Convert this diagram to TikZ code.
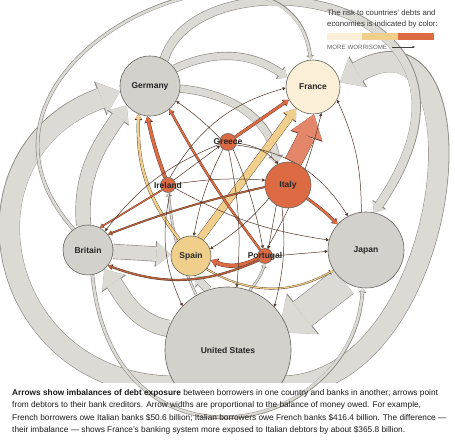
\documentclass[tikz,border=0pt]{standalone}
\usepackage{fontspec}
\setmainfont{Liberation Sans}
\usetikzlibrary{arrows.meta,positioning}

\definecolor{grayfill}{HTML}{DCDAD4}
\definecolor{graydraw}{HTML}{8E8B85}
\definecolor{nodegray}{HTML}{D3D1CB}
\definecolor{nodeline}{HTML}{66635E}
\definecolor{riskcream}{HTML}{FBEFD8}
\definecolor{risktan}{HTML}{EFCF8B}
\definecolor{riskred}{HTML}{DC6A43}
\definecolor{salmon}{HTML}{E3866A}
\definecolor{rust}{HTML}{B5623F}
\definecolor{flowline}{HTML}{4D3428}

\pgfdeclarelayer{back}
\pgfsetlayers{back,main}

\tikzset{
  country/.style={circle, draw=nodeline, line width=0.6pt, inner sep=0pt,
    font=\bfseries\fontsize{8.5}{10}\selectfont, text=black!85},
  cname/.style={font=\bfseries\fontsize{8.5}{10}\selectfont, text=black!85, inner sep=0pt},
  fat/.style={draw=grayfill, line width=#1,
    -{Triangle[length=1pt 0.95, width=2pt 1.6, line width=0pt]},
    preaction={draw=graydraw, line width=#1+1.2pt}},
  flow/.style 2 args={draw=#1, line width=#2,
    -{Triangle[length=2pt 1.2, width=2pt 1.8, line width=0pt]},
    preaction={draw=flowline, line width=#2+0.7pt}},
  link/.style={draw=flowline, line width=0.5pt,
    -{Triangle[length=3pt, width=3pt]}},
}

\begin{document}
\begin{tikzpicture}[x=1pt,y=1pt]
  \useasboundingbox (0,0) rectangle (455,443);

  % countries
  \begin{scope}
    \clip (0,60) rectangle (455,443);
    \node[country, fill=nodegray, minimum size=60pt] (germany) at (150,357) {Germany};
    \node[country, fill=riskcream, minimum size=54pt] (france) at (313,356) {France};
    \node[country, fill=riskred, minimum size=17pt, label={[cname]center:Greece}] (greece) at (228,301) {};
    \node[country, fill=riskred, minimum size=15pt, label={[cname]center:Ireland}] (ireland) at (168,258) {};
    \node[country, fill=riskred, minimum size=46pt] (italy) at (288,258) {Italy};
    \node[country, fill=nodegray, minimum size=50pt] (britain) at (88,193) {Britain};
    \node[country, fill=risktan, minimum size=40pt] (spain) at (191,187) {Spain};
    \node[country, fill=riskred, minimum size=15pt, label={[cname]center:Portugal}] (portugal) at (265,187) {};
    \node[country, fill=nodegray, minimum size=76pt] (japan) at (366,193) {Japan};
    \node[country, fill=nodegray, minimum size=126pt] (usa) at (228,93) {United States};
  \end{scope}

  \begin{pgfonlayer}{back}
    % big gray flows
    \begin{scope}
      \clip (0,60) rectangle (455,443);
      \draw[fat=20pt] (usa.215) to[out=180, in=200, looseness=1.55] (germany.190);
      \draw[fat=20pt] (usa.-35) to[out=0, in=30, looseness=1.45] (france.10);
      \draw[fat=14pt] (britain.100) to[out=95, in=235] (germany.220);
      \draw[fat=14pt] (britain) -- (spain);
      \draw[fat=16pt] (usa.160) to[out=170, in=-55] (britain.-50);
      \draw[fat=8pt] (germany.62) .. controls +(35,110) and +(150,220) .. (japan.78);
      \draw[fat=7pt] (germany.35) to[bend left=30] (france.160);
      \draw[fat=7pt] (germany.-5) to[out=-5, in=100] (italy.118);
      \draw[fat=30pt, shorten >=-10pt] (japan.235) -- (usa.22);
      \draw[fat=7pt] (usa.108) -- (spain.-80);
    \end{scope}
    \draw[fat=2.5pt] (britain.-80) .. controls +(20,-210) and +(-10,-150) .. (japan.-95);
    \draw[fat=2.5pt] (britain.125) .. controls +(-150,170) and +(-20,160) .. (france.95);
    \draw[fat=1.5pt] (usa.120) to[bend left=10] (ireland.-85);
    \draw[fat=1.5pt] (usa.70) to[bend right=10] (portugal.-90);

    % colored flows
    \draw[flow={risktan}{7pt}] (spain.62) -- (france.232);
    \draw[flow={salmon}{17pt}] (italy.78) to[bend right=5] (france.-88);
    \draw[flow={riskred}{3pt}] (ireland) to[bend left=4] (germany.-95);
    \draw[flow={riskred}{2.5pt}] (greece) -- (france.208);
    \draw[flow={riskred}{1.8pt}] (portugal) to[bend left=4] (germany.-50);
    \draw[flow={risktan}{2.5pt}] (spain.125) to[bend left=20] (germany.-112);
    \draw[flow={riskred}{3.5pt}] (portugal.200) to[bend left=25] (spain.-12);
    \draw[flow={risktan}{1.2pt}] (spain.-40) to[bend right=30] (japan.212);
    \draw[flow={riskred}{2.2pt}] (italy.-35) to[bend left=5] (japan.138);
    \draw[flow={rust}{1.5pt}] (portugal.215) to[bend left=22] (britain.-38);
    \draw[flow={rust}{1.2pt}] (italy.185) to[bend right=4] (britain.38);
    \draw[flow={riskred}{1pt}] (ireland.220) -- (britain.62);

    % thin links
    \foreach \a/\b/\ang in {ireland.75/france.182/22, ireland.8/italy.168/6,
        ireland.-25/japan.165/-10, greece.-20/japan.118/25, portugal.east/japan.182/0,
        japan.97/france.-28/-12, portugal.75/france.-72/-8, greece.155/germany.-30/-5,
        greece.235/spain.82/-8, italy.215/spain.20/8, greece.-8/italy.115/20,
        greece.-85/usa.82/8, ireland.-75/usa.136/-18, italy.-105/usa.43/10,
        greece.-55/portugal.105/6, italy.-120/portugal.65/0, greece.195/britain.48/-15,
        ireland.40/greece.205/0}
      \draw[link] (\a) to[bend left=\ang] (\b);
  \end{pgfonlayer}

  % legend
  \node[anchor=north west, inner sep=0pt, align=left, font=\fontsize{7.8}{11}\selectfont, text=black!80] (risk) at (327,433)
    {The risk to countries’ debts and\\economies is indicated by color:};
  \fill[riskcream] (327,403) rectangle (362,410);
  \fill[risktan] (362,403) rectangle (398,410);
  \fill[riskred] (398,403) rectangle (434,410);
  \node[anchor=west, inner sep=0pt, font=\fontsize{6.2}{7}\selectfont, text=black!60] (worry) at (327,396) {MORE WORRISOME};
  \draw[black!75, -{Latex[length=3pt,width=2.5pt]}] ([xshift=5pt]worry.east) -- ++(23,0);

  % caption
  \node[anchor=north west, inner sep=0pt, align=left, font=\fontsize{8.3}{12.4}\selectfont, text=black!90] (caption) at (12,54)
    {\textbf{Arrows show imbalances of debt exposure} between borrowers in one country and banks in another; arrows point\\
     from debtors to their bank creditors. Arrow widths are proportional to the balance of money owed. For example,\\
     French borrowers owe Italian banks \$50.6 billion; Italian borrowers owe French banks \$416.4 billion. The difference —\\
     their imbalance — shows France’s banking system more exposed to Italian debtors by about \$365.8 billion.};
\end{tikzpicture}
\end{document}
